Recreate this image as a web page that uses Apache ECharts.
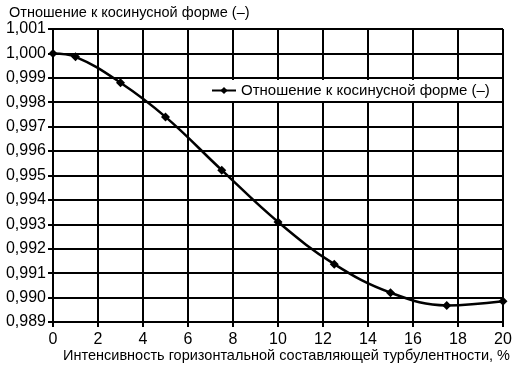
<!DOCTYPE html>
<html><head><meta charset="utf-8">
<script src="https://cdn.jsdelivr.net/npm/echarts@6/dist/echarts.min.js"></script>
<style>html,body{margin:0;padding:0;background:#fff}#c{width:515px;height:370px}</style>
</head><body><div id="c"></div>
<script>
const xValues = [0, 1, 3, 5, 7.5, 10, 12.5, 15, 17.5, 20];
const ratioValues = [1.0000, 0.99986, 0.99880, 0.99740, 0.99522, 0.99310, 0.99137, 0.99020, 0.98968, 0.98985];
const seriesName = 'Отношение к косинусной форме (–)';
const yTitle = 'Отношение к косинусной форме (–)';
const xTitle = 'Интенсивность горизонтальной составляющей турбулентности, %';

const font = 'Arial, "Liberation Sans", Helvetica, sans-serif';
const chart = echarts.init(document.getElementById('c'));
chart.setOption({
  animation: false,
  backgroundColor: '#fff',
  textStyle: {fontFamily: font, color: '#000'},
  grid: {left: 53, right: 12, top: 29, bottom: 48, containLabel: false},
  title: {text: yTitle, left: 4, top: 0, textStyle: {fontFamily: font, fontSize: 14.5, fontWeight: 'normal', color: '#000'}},
  legend: {
    left: 205, top: 80, padding: [3, 8, 3, 6],
    backgroundColor: '#fff', itemWidth: 24, itemHeight: 9, itemGap: 6,
    textStyle: {fontFamily: font, fontSize: 15, color: '#000'},
    data: [seriesName]
  },
  xAxis: {
    type: 'value', min: 0, max: 20, interval: 2,
    name: xTitle, nameLocation: 'end', nameGap: 7,
    nameTextStyle: {fontFamily: font, fontSize: 14.5, color: '#000', align: 'right', verticalAlign: 'top', padding: [26, 0, 0, 0]},
    axisLine: {lineStyle: {color: '#000', width: 2}},
    axisTick: {show: true, length: 5, lineStyle: {color: '#000', width: 2}},
    axisLabel: {fontFamily: font, fontSize: 16, color: '#000', margin: 10},
    splitLine: {show: true, lineStyle: {color: '#000', width: 2}}
  },
  yAxis: {
    type: 'value', min: 0.989, max: 1.001, interval: 0.001,
    axisLine: {show: true, lineStyle: {color: '#000', width: 2}},
    axisTick: {show: true, length: 5, lineStyle: {color: '#000', width: 2}},
    axisLabel: {fontFamily: font, fontSize: 16, color: '#000', margin: 7,
      formatter: v => v.toFixed(3).replace('.', ',')},
    splitLine: {show: true, lineStyle: {color: '#000', width: 2}}
  },
  series: [{
    name: seriesName, type: 'line', smooth: 0.4,
    data: xValues.map((x, i) => [x, ratioValues[i]]),
    symbol: 'diamond', symbolSize: 9,
    lineStyle: {color: '#000', width: 2.5},
    itemStyle: {color: '#000'},
    clip: false, z: 5
  }]
});
</script></body></html>
